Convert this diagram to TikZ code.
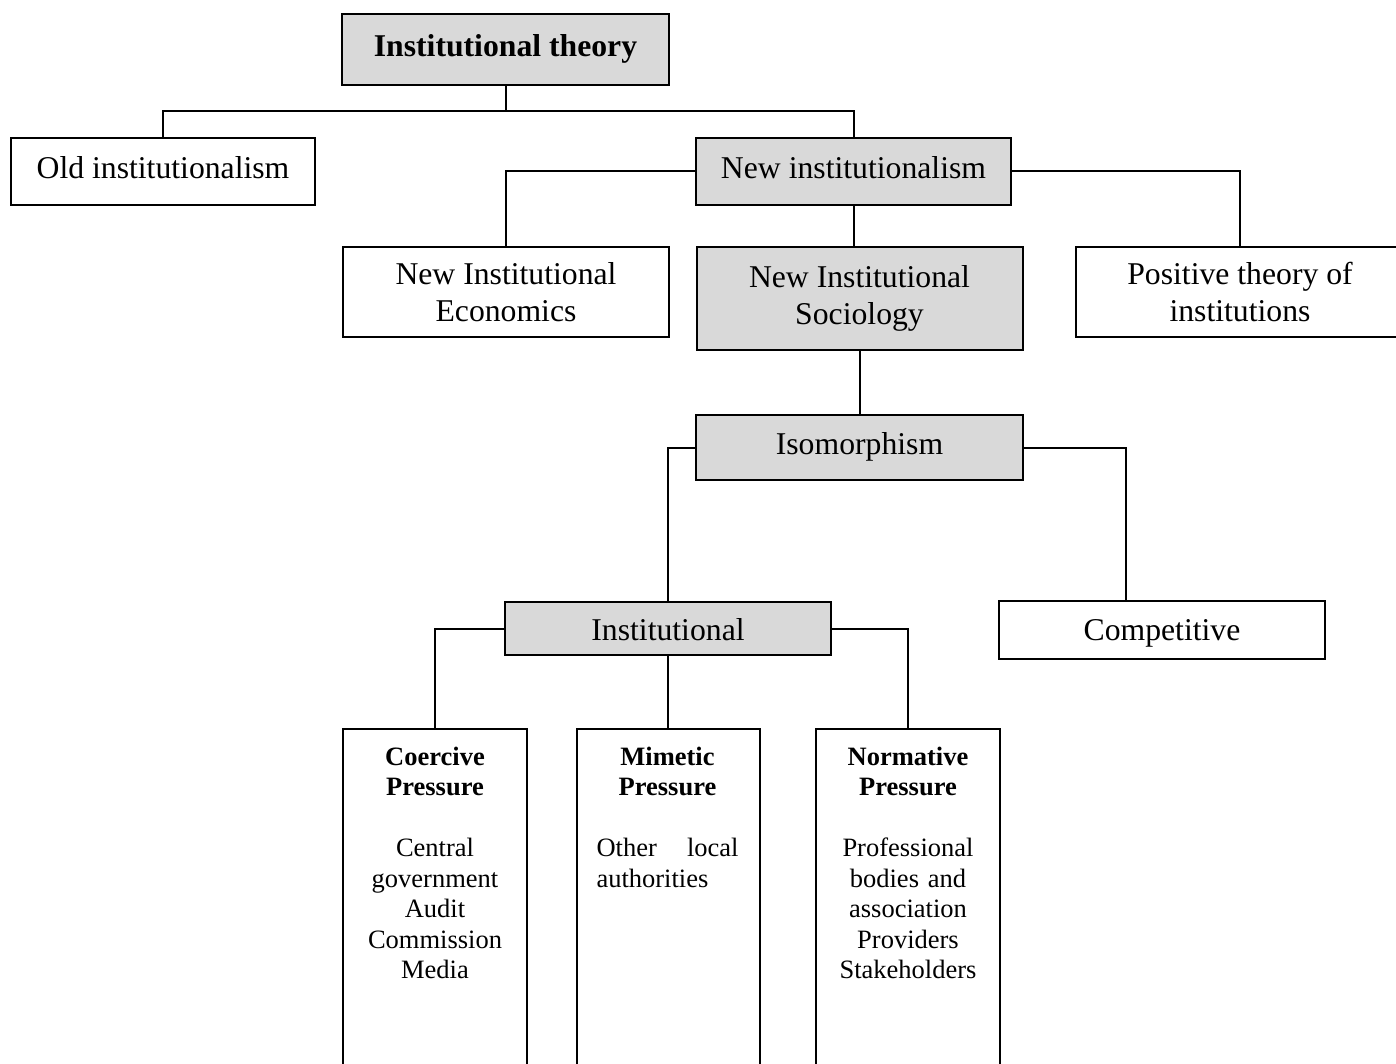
\documentclass[tikz,border=0pt]{standalone}
\usepackage{fontspec}
\setmainfont{Liberation Serif}
\definecolor{boxgray}{RGB}{217,217,217}
\newcommand\bigfs{\fontsize{31.7}{37}\selectfont}
\newcommand\smallfs{\fontsize{26.5}{30.5}\selectfont}
\begin{document}
\begin{tikzpicture}[x=1pt,y=-1pt,
  box/.style={draw, line width=2pt, inner sep=0pt, font=\bigfs},
  oneline/.style={box, text height=22pt, text depth=7.5pt},
  twoline/.style={box, align=center},
  shaded/.style={fill=boxgray},
  tall/.style={draw, line width=2pt, inner sep=0pt, minimum height=400pt},
  boxtext/.style={anchor=north, inner sep=0pt, font=\smallfs, align=center},
  link/.style={line width=2pt}]

\useasboundingbox (0,0) rectangle (1396,1064);
\clip (0,0) rectangle (1396,1064);
\fill[white] (0,0) rectangle (1396,1064);

% upper levels
\node[oneline, shaded, minimum width=327pt, minimum height=71pt, font=\bigfs\bfseries]
  (it) at (505.5,49.5) {Institutional theory};
\node[oneline, minimum width=304pt, minimum height=67pt] (old) at (163,171.5) {Old institutionalism};
\node[oneline, shaded, minimum width=315pt, minimum height=67pt] (ni) at (853.5,171.5) {New institutionalism};
\node[twoline, minimum width=326pt, minimum height=90pt] (nie) at (506,292) {New Institutional\\Economics};
\node[twoline, shaded, minimum width=326pt, minimum height=103pt] (nis) at (859.5,298.5) {New Institutional\\Sociology};
\node[twoline, minimum width=328pt, minimum height=90pt] (pt) at (1240,292) {Positive theory of\\institutions};

% isomorphism branch
\node[oneline, shaded, minimum width=327pt, minimum height=65pt] (iso) at (859.5,447.5) {Isomorphism};
\node[oneline, shaded, minimum width=326pt, minimum height=53pt, text height=30pt, text depth=7pt]
  (inst) at (668,628.5) {Institutional};
\node[oneline, minimum width=326pt, minimum height=58pt, text height=29pt, text depth=7.5pt]
  (comp) at (1162,630) {Competitive};

% pressure columns
\node[tall, minimum width=184.5pt] (coer) at (435,929) {};
\node[tall, minimum width=183pt] (mim) at (668,929) {};
\node[tall, minimum width=184pt] (norm) at (908,929) {};

\node[boxtext, text width=150pt] (coertxt) at (435,746.5)
  {\textbf{Coercive}\\\textbf{Pressure}\\[30.5pt]Central\\government\\Audit\\Commission\\Media};
\node[boxtext, text width=142pt] (mimtxt) at (667.5,746.5)
  {\textbf{Mimetic}\\\textbf{Pressure}\\[30.5pt]\makebox[142pt][s]{Other\hfill local}\\\makebox[142pt][l]{authorities}};
\node[boxtext, text width=150pt] (normtxt) at (908,746.5)
  {\textbf{Normative}\\\textbf{Pressure}\\[30.5pt]Professional\\bodies and\\association\\Providers\\Stakeholders};

% connectors
\coordinate (topjoin) at (505.5,111);
\draw[link] (it.south) -- (topjoin);
\draw[link] (old.north) |- (topjoin) -| (ni.north);
\draw[link] (ni.west) -| (nie.north);
\draw[link] (ni.east) -| (pt.north);
\draw[link] (ni.south) -- (ni.south |- nis.north);
\draw[link] (nis.south) -- (iso.north);
\draw[link] (iso.west) -| (inst.north);
\coordinate (compjoin) at (1126,447.5);
\draw[link] (iso.east) -- (compjoin) -- (compjoin |- comp.north);
\draw[link] (inst.west) -| (coer.north);
\draw[link] (inst.south) -- (mim.north);
\draw[link] (inst.east) -| (norm.north);
\end{tikzpicture}
\end{document}
